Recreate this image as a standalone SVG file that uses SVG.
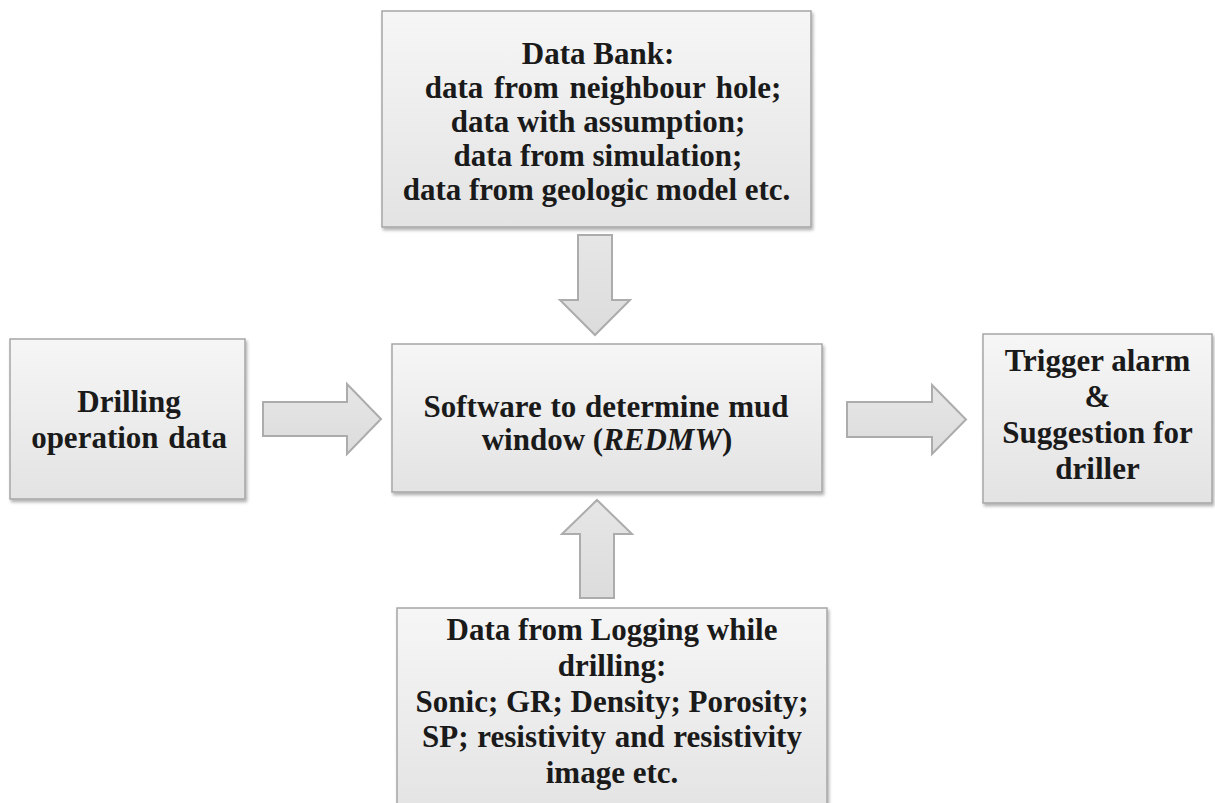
<svg xmlns="http://www.w3.org/2000/svg" width="1215" height="803" viewBox="0 0 1215 803">
<defs>
<linearGradient id="boxg" x1="0" y1="0" x2="0" y2="1">
<stop offset="0" stop-color="#f6f6f6"/>
<stop offset="1" stop-color="#e3e3e3"/>
</linearGradient>
<linearGradient id="arrg" x1="0" y1="0" x2="0" y2="1">
<stop offset="0" stop-color="#e6e6e6"/>
<stop offset="1" stop-color="#dcdcdc"/>
</linearGradient>
<filter id="sh" x="-5%" y="-5%" width="112%" height="115%">
<feDropShadow dx="1.5" dy="2.5" stdDeviation="1.5" flood-color="#000" flood-opacity="0.3"/>
</filter>
<style>
.box{fill:url(#boxg);stroke:#a6a6a6;stroke-width:1.5;filter:url(#sh)}
.arr{fill:url(#arrg);stroke:#acacac;stroke-width:2}
.t{font-weight:bold;font-size:31px;fill:#1a1a1a;text-anchor:middle}
</style>
</defs>
<rect width="1215" height="803" fill="#ffffff"/>
<g id="connectors">
<path class="arr" d="M263,402 H347 V384 L381,419 L347,454 V436 H263 Z"/>
<path class="arr" d="M847,402 H932 V385 L966,419.5 L932,454 V437 H847 Z"/>
<path class="arr" d="M578,235 H612 V300 H630 L595,335 L560,300 H578 Z"/>
<path class="arr" d="M597,500 L632,534 H614 V598 H580 V534 H562 Z"/>
</g>
<g font-family="Liberation Serif, Tinos, Times New Roman, DejaVu Serif, serif">
<g id="databank">
<rect class="box" x="382" y="11" width="429" height="216"/>
<text class="t" x="598" y="64">Data Bank:</text>
<text class="t" x="603" y="98" word-spacing="3">data from neighbour hole;</text>
<text class="t" x="598" y="132">data with assumption;</text>
<text class="t" x="598" y="166">data from simulation;</text>
<text class="t" x="596.5" y="200">data from geologic model etc.</text>
</g>
<g id="drilling">
<rect class="box" x="10" y="339" width="235" height="160"/>
<text class="t" x="129" y="412">Drilling</text>
<text class="t" x="129" y="448" word-spacing="2">operation data</text>
</g>
<g id="software">
<rect class="box" x="392" y="344" width="430" height="148"/>
<text class="t" x="606" y="417" word-spacing="1">Software to determine mud</text>
<text class="t" x="607" y="450">window (<tspan font-style="italic">REDMW</tspan>)</text>
</g>
<g id="trigger">
<rect class="box" x="983" y="334" width="229" height="169"/>
<text class="t" x="1097.5" y="371">Trigger alarm</text>
<text class="t" x="1097.5" y="407">&amp;</text>
<text class="t" x="1097.5" y="443">Suggestion for</text>
<text class="t" x="1097.5" y="479">driller</text>
</g>
<g id="lwd">
<rect class="box" x="397" y="608" width="430" height="210"/>
<text class="t" x="612" y="640">Data from Logging while</text>
<text class="t" x="612" y="676">drilling:</text>
<text class="t" x="612" y="712">Sonic; GR; Density; Porosity;</text>
<text class="t" x="612" y="747" word-spacing="1">SP; resistivity and resistivity</text>
<text class="t" x="612" y="783">image etc.</text>
</g>
</g>
</svg>
